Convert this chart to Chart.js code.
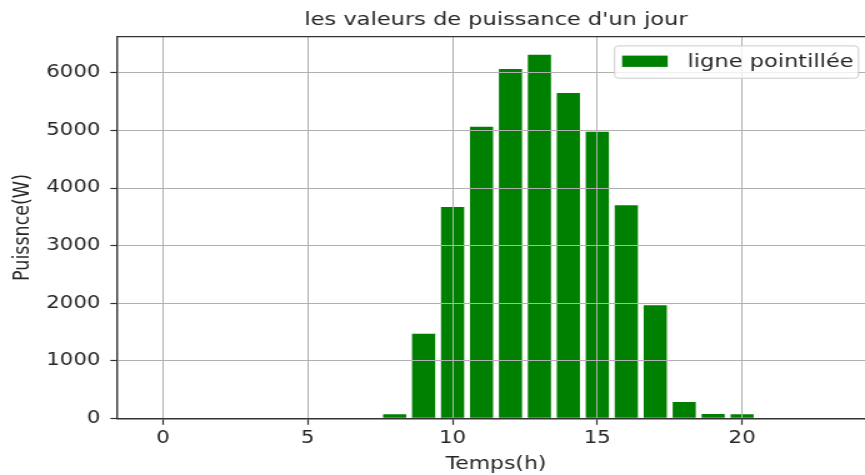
<!DOCTYPE html>
<html>
<head>
<meta charset="utf-8">
<script src="https://cdn.jsdelivr.net/npm/chart.js@4.4.1/dist/chart.umd.min.js"></script>
<style>
  html, body { margin: 0; padding: 0; background: #fff; overflow: hidden; }
  /* the reference is a horizontally stretched figure, so stretch the canvas the same way */
  #wrap { position: absolute; left: 0; top: 0; width: 700px; height: 475px;
          transform: scaleX(1.25); transform-origin: 0 0; }
</style>
</head>
<body>
<div id="wrap"><canvas id="chart"></canvas></div>
<script>
const hours = [0, 1, 2, 3, 4, 5, 6, 7, 8, 9, 10, 11, 12, 13, 14, 15, 16, 17, 18, 19, 20, 21, 22, 23];
const power = [0, 0, 0, 0, 0, 0, 0, 0, 70, 1470, 3670, 5065, 6070, 6315, 5650, 4980, 3700, 1965, 285, 75, 70, 0, 0, 0];
const xTicks = [0, 5, 10, 15, 20];
const yTicks = [0, 1000, 2000, 3000, 4000, 5000, 6000];
const chartTitle = "les valeurs de puissance d'un jour";
const seriesLabel = 'ligne pointillée';
const xLabel = 'Temps(h)';
const yLabel = 'Puissnce(W)';

// matplotlib style autoscale: bar width 0.8 and 5% margins
const barWidth = 0.8;
const xSpan = (hours[hours.length - 1] + barWidth / 2) - (hours[0] - barWidth / 2);
const xMin = hours[0] - barWidth / 2 - 0.05 * xSpan;
const xMax = hours[hours.length - 1] + barWidth / 2 + 0.05 * xSpan;
const yMax = Math.max(...power) * 1.05;

const FONT = "'DejaVu Sans', sans-serif";
const INK = '#262626';

// top/right spines and a matplotlib-like legend box
const framePlugin = {
  id: 'frame',
  afterDraw(chart) {
    const { ctx, chartArea: a } = chart;
    ctx.save();
    ctx.strokeStyle = '#333';
    ctx.lineWidth = 1.4;
    ctx.beginPath();
    ctx.moveTo(a.left, a.top);
    ctx.lineTo(a.right, a.top);
    ctx.lineTo(a.right, a.bottom);
    ctx.stroke();

    const ds = chart.data.datasets[0];
    ctx.font = `18px ${FONT}`;
    const tw = ctx.measureText(ds.label).width;
    const w = 6 + 36.4 + 16 + tw + 4;
    const h = 32.3;
    const x = a.right - 13.2 - w;
    const y = a.top + 9.3;
    ctx.beginPath();
    ctx.roundRect(x, y, w, h, 3);
    ctx.fillStyle = 'rgba(255,255,255,0.8)';
    ctx.fill();
    ctx.strokeStyle = '#cccccc';
    ctx.lineWidth = 1;
    ctx.stroke();
    ctx.fillStyle = ds.backgroundColor;
    ctx.fillRect(x + 6, y + 9.7, 36.4, 11.3);
    ctx.fillStyle = INK;
    ctx.textBaseline = 'middle';
    ctx.fillText(ds.label, x + 6 + 36.4 + 16, y + h / 2);
    ctx.restore();
  }
};

new Chart(document.getElementById('chart'), {
  type: 'bar',
  data: {
    datasets: [{
      label: seriesLabel,
      data: hours.map((h, i) => ({ x: h, y: power[i] })),
      backgroundColor: '#008000',
      borderWidth: 0,
      barPercentage: barWidth,
      categoryPercentage: 1
    }]
  },
  options: {
    responsive: true,
    maintainAspectRatio: false,
    animation: false,
    devicePixelRatio: 1,
    layout: { padding: 0 },
    plugins: {
      legend: { display: false },
      tooltip: { enabled: false },
      title: {
        display: true,
        text: chartTitle,
        fullSize: false,
        color: INK,
        font: { family: FONT, size: 18, weight: 'normal' },
        padding: { top: 10, bottom: 5 }
      }
    },
    scales: {
      x: {
        type: 'linear',
        min: xMin,
        max: xMax,
        offset: false,
        afterBuildTicks: s => { s.ticks = xTicks.map(v => ({ value: v })); },
        afterFit: s => { s.height = 56.7; },
        grid: { offset: false, color: '#b0b0b0', lineWidth: 1, z: 1, tickLength: 6.5, tickColor: '#333', tickWidth: 1.2 },
        border: { color: '#333', width: 1.4, z: 2 },
        ticks: { color: INK, font: { family: FONT, size: 17 }, padding: 4, maxRotation: 0, callback: v => String(v) },
        title: { display: true, text: xLabel, color: INK, font: { family: FONT, size: 17.5 }, padding: { top: 4, bottom: 0 } }
      },
      y: {
        min: 0,
        max: yMax,
        afterBuildTicks: s => { s.ticks = yTicks.map(v => ({ value: v })); },
        afterFit: s => { s.width = 93.6; },
        grid: { color: '#b0b0b0', lineWidth: 1, z: 1, tickLength: 5.3, tickColor: '#333', tickWidth: 1.2 },
        border: { color: '#333', width: 1.4, z: 2 },
        ticks: { color: INK, font: { family: FONT, size: 17 }, padding: 8, callback: v => String(v) },
        title: { display: true, text: yLabel, color: INK, font: { family: FONT, size: 17.5 }, padding: { top: 8.3, bottom: 0 } }
      }
    }
  },
  plugins: [framePlugin]
});
</script>
</body>
</html>
